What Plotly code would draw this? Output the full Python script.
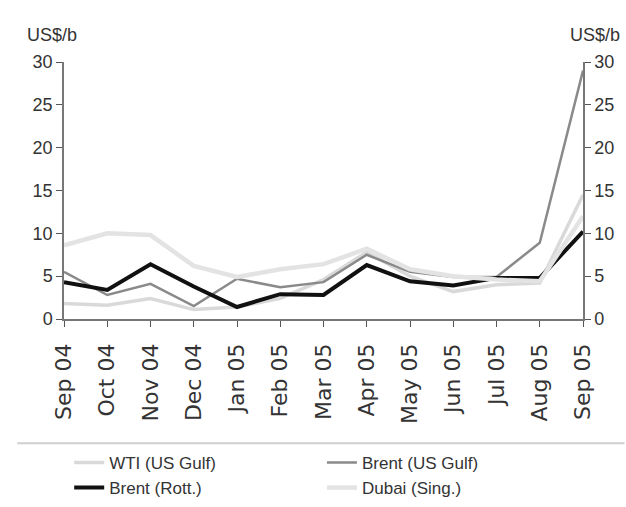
import plotly.graph_objects as go

# Monthly differentials, US$/b
months = ["Sep 04", "Oct 04", "Nov 04", "Dec 04", "Jan 05", "Feb 05", "Mar 05",
          "Apr 05", "May 05", "Jun 05", "Jul 05", "Aug 05", "Sep 05"]
wti_us_gulf = [1.8, 1.6, 2.4, 1.1, 1.4, 2.4, 4.6, 7.8, 5.0, 3.2, 4.0, 4.2, 14.5]
brent_us_gulf = [5.5, 2.8, 4.1, 1.5, 4.7, 3.7, 4.3, 7.5, 5.5, 4.9, 4.9, 8.9, 29.0]
brent_rott = [4.3, 3.4, 6.4, 3.8, 1.4, 2.9, 2.8, 6.3, 4.4, 3.9, 4.8, 4.8, 10.2]
dubai_sing = [8.6, 10.0, 9.8, 6.2, 4.9, 5.8, 6.4, 8.2, 5.8, 5.0, 4.6, 4.4, 12.0]

y_ticks = [0, 5, 10, 15, 20, 25, 30]
unit = "US$/b"

# name, values, colour, width, legend column
series = [
    ("WTI (US Gulf)", wti_us_gulf, "#d9d9d9", 3.5, "legend"),
    ("Brent (US Gulf)", brent_us_gulf, "#8a8a8a", 2.5, "legend2"),
    ("Brent (Rott.)", brent_rott, "#111111", 4, "legend"),
    ("Dubai (Sing.)", dubai_sing, "#e3e3e3", 4.5, "legend2"),
]

fig = go.Figure()
for name, vals, color, width, lg in series:
    fig.add_trace(go.Scatter(x=months, y=vals, name=name, mode="lines", legend=lg,
                             line=dict(color=color, width=width)))

# invisible trace so the right-hand axis is drawn
fig.add_trace(go.Scatter(x=months, y=brent_rott, yaxis="y2", mode="lines",
                         line=dict(width=0), showlegend=False, hoverinfo="skip"))

narrow = "Liberation Sans Narrow, Arial Narrow, Liberation Sans, Arial"
tick_font = dict(family=narrow, size=18, color="#333")
axis_common = dict(range=[0, 30], tickvals=y_ticks, ticks="outside", ticklen=6,
                   tickcolor="#555", showline=True, linecolor="#777", linewidth=1.5,
                   showgrid=False, zeroline=False, tickfont=tick_font, automargin=False)
legend_common = dict(orientation="v", xanchor="left", y=-0.49, yanchor="top",
                     bgcolor="rgba(0,0,0,0)", traceorder="normal", tracegroupgap=0,
                     itemwidth=30, font=dict(family=narrow, size=17, color="#333"))

fig.update_layout(
    width=626, height=507,
    margin=dict(l=64, r=43, t=62, b=188, autoexpand=False),
    paper_bgcolor="white", plot_bgcolor="white",
    showlegend=True,
    xaxis=dict(type="category", tickangle=-90, ticks="outside", ticklen=6,
               tickcolor="#555", showline=True, linecolor="#777", linewidth=1.5,
               showgrid=False, zeroline=False, range=[0, len(months) - 1],
               ticklabelstandoff=8, automargin=False,
               tickfont=dict(family="DejaVu Sans, Verdana", size=22, color="#333")),
    yaxis=dict(side="left", **axis_common),
    yaxis2=dict(side="right", overlaying="y", **axis_common),
    legend=dict(x=0.01, **legend_common),
    legend2=dict(x=0.497, **legend_common),
    annotations=[
        dict(text=unit, xref="paper", yref="paper", x=-0.075, y=1.06, xanchor="left",
             yanchor="bottom", showarrow=False, font=dict(family=narrow, size=18, color="#333")),
        dict(text=unit, xref="paper", yref="paper", x=1.075, y=1.06, xanchor="right",
             yanchor="bottom", showarrow=False, font=dict(family=narrow, size=18, color="#333")),
    ],
    shapes=[dict(type="line", xref="paper", yref="paper", x0=-0.09, x1=1.08,
                 y0=-0.483, y1=-0.483, line=dict(color="#cfcfcf", width=2))],
)

fig.write_html("out.html")
